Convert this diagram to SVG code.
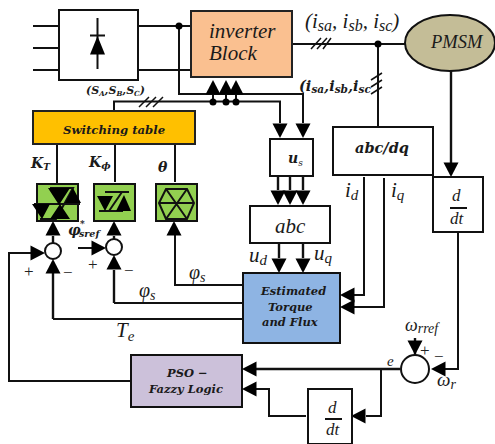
<svg xmlns="http://www.w3.org/2000/svg" width="495" height="444" viewBox="0 0 495 444">
<style>
.b{stroke:#111;stroke-width:2;fill:#fff}
.w{stroke:#111;stroke-width:2;fill:none}
.h{stroke:#111;stroke-width:2.4;fill:none}
.t{stroke:#111;stroke-width:1.5;fill:none}
.f{fill:#000;stroke:none}
text{font-family:"Liberation Serif","DejaVu Serif",serif;font-style:italic;fill:#1a1a1a}
.bd{font-family:"DejaVu Serif",serif;font-weight:bold;font-style:italic}
.pm{font-family:"Liberation Serif",serif;font-style:normal;fill:#222}
</style>
<defs>
<path id="up" d="M0 0L-7.500 14.500L7.500 14.500Z"/>
<path id="dn" d="M0 0L-7.500 -14.500L7.500 -14.500Z"/>
<path id="lf" d="M0 0L14.500 -7.500L14.500 7.500Z"/>
<path id="rt" d="M0 0L-14.500 -7.500L-14.500 7.500Z"/>
</defs>

<g id="connectors">
<path class="w" d="M33 26H59M33 48H59M33 70H59M138 26H191M138 70H191"/>
<path class="w" d="M179 26V94H303V123"/>
<path class="w" d="M114 111V101.500H280V123"/>
<path class="t" d="M139 107L149 97M146 107L156 97M153 107L163 97"/>
<path class="w" d="M213 94V102M226 94V102M236 94V102"/>
<circle class="f" cx="179" cy="26" r="3.500"/>
<circle class="f" cx="213" cy="102" r="3.500"/><circle class="f" cx="226" cy="102" r="3.500"/><circle class="f" cx="236" cy="102" r="3.500"/>
<use href="#up" x="213" y="80"/><use href="#up" x="226" y="80"/><use href="#up" x="236" y="80"/>
<use href="#dn" x="280" y="138"/><use href="#dn" x="303" y="138"/>
<path class="w" d="M292 44H405M378 44V127"/>
<circle class="f" cx="378" cy="44" r="3.500"/>
<path class="t" d="M311 49L321 38M317 49L327 38M323 49L331 38"/>
<path class="t" d="M371 80L382 73M371 87L382 80M371 94L382 87"/>
<path class="h" d="M451 71V163"/>
<use href="#dn" x="451" y="177"/>
<path class="w" d="M57 144V184M115 144V182M175 144V182"/>
<path class="h" d="M278 176V190M290 176V190M303 176V190"/>
<use href="#dn" x="278" y="205"/><use href="#dn" x="290" y="205"/><use href="#dn" x="303" y="205"/>
<path class="h" d="M279 243V258M303 243V258"/>
<use href="#dn" x="279" y="273"/><use href="#dn" x="303" y="273"/>
<path class="w" d="M364 177V295H353M384 178V307H353"/>
<use href="#lf" x="340" y="295"/><use href="#lf" x="340" y="307"/>
<path class="w" d="M458 232V369H433"/>
<use href="#lf" x="431" y="369"/>
<path class="h" d="M415 355V338"/>
<use href="#dn" x="415" y="355"/>
<path class="h" d="M400 369H256"/>
<use href="#lf" x="242" y="369"/>
<path class="w" d="M381 369V416H366"/>
<use href="#lf" x="351" y="416"/>
<path class="w" d="M306 416H269V389H256"/>
<use href="#lf" x="242" y="389"/>
<path class="w" d="M131 381H9V253H31"/>
<use href="#rt" x="45" y="253"/>
<path class="h" d="M53 319V272"/>
<use href="#up" x="53" y="259"/>
<path class="w" d="M53 319H243"/>
<path class="h" d="M114 303V270"/>
<use href="#up" x="114" y="255"/>
<path class="w" d="M114 303H243"/>
<path class="w" d="M243 285H175V235"/>
<use href="#up" x="174" y="221"/>
<path class="h" d="M53 243V236"/><use href="#up" x="53" y="221"/>
<path class="h" d="M114 239V236"/><use href="#up" x="114" y="221"/>
<path class="w" d="M78 248H92"/>
<use href="#rt" x="106" y="248"/>
</g>

<g id="rectifier">
<rect class="b" x="59" y="10" width="79" height="70"/>
<path class="w" d="M97.500 18V69M90 35.500H105"/>
<path class="f" d="M97.500 36L90 54.500H105Z"/>
</g>
<g id="inverter">
<rect x="191" y="11" width="101" height="66" fill="#fac090" stroke="#222" stroke-width="2"/>
<text x="209" y="38" font-size="21">inverter</text>
<text x="209" y="60" font-size="21">Block</text>
</g>
<g id="pmsm">
<ellipse cx="450" cy="43" rx="45" ry="28" fill="#c4bd97" stroke="#111" stroke-width="2"/>
<text x="431" y="48" font-size="18.500">PMSM</text>
</g>
<g id="switching-table">
<rect x="33" y="111" width="162" height="33" fill="#ffc000" stroke="#222" stroke-width="2"/>
<text class="bd" x="63" y="134" font-size="11.700">Switching table</text>
</g>
<g id="kt">
<rect x="37" y="184" width="41" height="37" fill="#92d050" stroke="#111" stroke-width="2"/>
<path class="w" d="M50 188H73L56 219H40M34 204H80"/>
<path class="f" d="M48 188H70L59 205ZM73 188L81 203H65ZM32 204H50L42 219ZM50 219L60 204L70 219H60Z"/>
</g>
<g id="kphi">
<rect x="94" y="184" width="41" height="37" fill="#92d050" stroke="#111" stroke-width="2"/>
<path class="w" d="M105 192H129M99 211H123M122 192L109 211"/>
<path class="f" d="M97 196H113L105 211ZM116 211L124 195L131 211Z"/>
</g>
<g id="theta">
<rect x="156" y="184" width="41" height="37" fill="#92d050" stroke="#111" stroke-width="2"/>
<path class="w" d="M166 189H187L194 203L187 219H166L159 203ZM159 203H194M166 189L187 219M187 189L166 219"/>
</g>
<g id="sum-torque"><circle class="b" cx="53" cy="251" r="8"/></g>
<g id="sum-flux"><circle class="b" cx="114" cy="247" r="8"/></g>
<g id="us">
<rect class="b" x="270" y="139" width="43" height="37"/>
<text class="bd" x="288" y="163" font-size="14">u<tspan font-size="9" dy="3" font-weight="normal">s</tspan></text>
</g>
<g id="abc">
<rect class="b" x="250" y="206" width="80" height="37"/>
<text x="275" y="233" font-size="21">abc</text>
</g>
<g id="abcdq">
<rect class="b" x="333" y="127" width="100" height="48"/>
<text class="bd" x="355" y="153" font-size="14.500">abc/dq</text>
</g>
<g id="ddt1">
<rect class="b" x="433" y="177" width="50" height="55"/>
<text x="452" y="201" font-size="17">d</text>
<path class="w" d="M450 208H467"/>
<text x="450" y="224" font-size="17">dt</text>
</g>
<g id="estimator">
<rect x="243" y="273" width="97" height="70" fill="#8eb4e3" stroke="#111" stroke-width="2"/>
<text class="bd" x="261" y="295" font-size="11.500">Estimated</text>
<text class="bd" x="268" y="311" font-size="11.500">Torque</text>
<text class="bd" x="262" y="326" font-size="11.500">and Flux</text>
</g>
<g id="pso">
<rect x="131" y="355" width="111" height="52" fill="#ccc1da" stroke="#111" stroke-width="2"/>
<text class="bd" x="167" y="377" font-size="11.500">PSO −</text>
<text class="bd" x="149" y="393" font-size="11.500">Fazzy Logic</text>
</g>
<g id="sum-speed"><circle class="b" cx="415" cy="369" r="14"/></g>
<g id="ddt2">
<rect class="b" x="308" y="389" width="44" height="55"/>
<text x="328" y="413" font-size="17">d</text>
<path class="w" d="M325 419H342"/>
<text x="326" y="435" font-size="17">dt</text>
</g>

<g id="labels">
<text x="86" y="94" font-size="11" class="bd">(S<tspan font-size="7" dy="2">A</tspan><tspan dy="-2">,S</tspan><tspan font-size="7" dy="2">B</tspan><tspan dy="-2">,S</tspan><tspan font-size="7" dy="2">C</tspan><tspan dy="-2">)</tspan></text>
<text x="305" y="28" font-size="21">(i<tspan font-size="16" dy="3">sa</tspan><tspan dy="-3">, i</tspan><tspan font-size="16" dy="3">sb</tspan><tspan dy="-3">, i</tspan><tspan font-size="16" dy="3">sc</tspan><tspan dy="-3">)</tspan></text>
<text x="299" y="91" font-size="14.500" class="bd">(i<tspan font-size="10.500" dy="2">sa</tspan><tspan dy="-2">,i</tspan><tspan font-size="10.500" dy="2">sb</tspan><tspan dy="-2">,i</tspan><tspan font-size="10.500" dy="2">sc</tspan></text>
<text x="31" y="168" font-size="14" class="bd">K<tspan font-size="9" dy="2">T</tspan></text>
<text x="89" y="167" font-size="14" class="bd">K<tspan font-size="10" dy="2">ϕ</tspan></text>
<text x="158" y="172" font-size="14" class="bd">θ</text>
<text x="68" y="235" font-size="14" class="bd">φ</text>
<text x="80" y="227" font-size="9" class="bd">*</text>
<text x="79" y="237" font-size="9.500" class="bd">sref</text>
<text class="pm" x="24" y="277" font-size="17">+</text>
<text class="pm" x="63" y="278" font-size="17">−</text>
<text class="pm" x="88" y="270" font-size="17">+</text>
<text class="pm" x="124" y="276" font-size="17">−</text>
<text x="189" y="279" font-size="20">φ<tspan font-size="14" dy="3">s</tspan></text>
<text x="139" y="297" font-size="20">φ<tspan font-size="14" dy="3">s</tspan></text>
<text x="116" y="337" font-size="21">T<tspan font-size="15" dy="4">e</tspan></text>
<text x="249" y="262" font-size="21">u<tspan font-size="15" dy="3">d</tspan></text>
<text x="314" y="260" font-size="21">u<tspan font-size="15" dy="3">q</tspan></text>
<text x="345" y="197" font-size="21">i<tspan font-size="15" dy="3">d</tspan></text>
<text x="391" y="197" font-size="21">i<tspan font-size="15" dy="3">q</tspan></text>
<text x="405" y="331" font-size="18">ω<tspan font-size="14" dy="2">rref</tspan></text>
<text class="pm" x="420" y="356" font-size="17">+</text>
<text class="pm" x="434" y="362" font-size="17">−</text>
<text x="437" y="386" font-size="19">ω<tspan font-size="14" dy="3">r</tspan></text>
<text x="387" y="366" font-size="15">e</text>
</g>
</svg>
